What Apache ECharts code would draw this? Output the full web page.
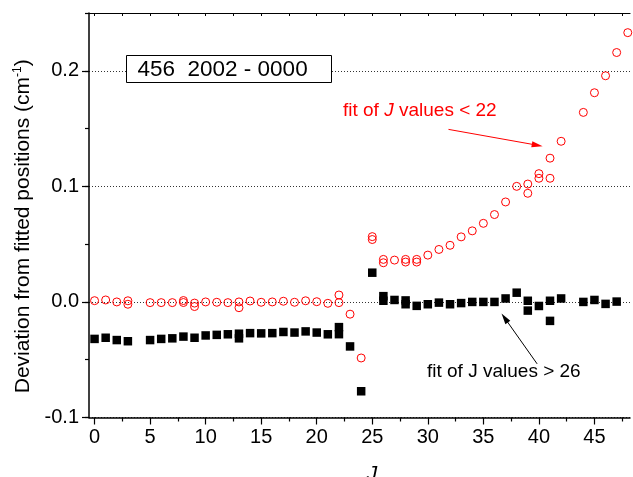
<!DOCTYPE html>
<html>
<head>
<meta charset="utf-8">
<script src="https://cdn.jsdelivr.net/npm/echarts@6/dist/echarts.min.js"></script>
<style>
  html, body { margin: 0; padding: 0; background: #fff; }
  #chart { width: 633px; height: 477px; }
</style>
</head>
<body>
<div id="chart"></div>
<script>
const FONT = '"Liberation Sans", Arial, Helvetica, sans-serif';

// Residuals of the fit to lines with J < 22 (open red circles)
const lowFitJ = [0, 1, 2, 3, 3, 5, 6, 7, 8, 8, 9, 9, 10, 11, 12, 13, 13, 14, 15, 16, 17, 18, 19, 20, 21,
  22, 22, 23, 24, 25, 25, 26, 26, 27, 28, 28, 29, 29, 30, 31, 32, 33, 34, 35, 36, 37, 38, 39, 39, 40,
  40, 41, 41, 42, 44, 45, 46, 47, 48];
const lowFitDev = [0.0011, 0.0017, 0.0000, 0.0010, -0.0020, -0.0006, -0.0006, -0.0006, 0.0012, -0.0005,
  -0.0010, -0.0040, 0.0000, -0.0003, -0.0006, 0.0000, -0.0050, 0.0008, -0.0003, 0.0000,
  0.0006, -0.0003, 0.0010, 0.0002, -0.0012, 0.0060, -0.0006, -0.0106, -0.0485, 0.0565,
  0.0540, 0.0368, 0.0339, 0.0362, 0.0368, 0.0345, 0.0368, 0.0345, 0.0405, 0.0454,
  0.0490, 0.0563, 0.0615, 0.0680, 0.0756, 0.0865, 0.1000, 0.1020, 0.0940, 0.1110,
  0.1070, 0.1244, 0.1070, 0.1390, 0.1640, 0.1810, 0.1957, 0.2158, 0.2330];

// Residuals of the fit to lines with J > 26 (filled black squares)
const highFitJ = [0, 1, 2, 3, 5, 6, 7, 8, 9, 10, 11, 12, 13, 13, 14, 15, 16, 17, 18, 19, 20, 21, 22, 22,
  23, 24, 25, 26, 26, 27, 28, 28, 29, 30, 31, 32, 33, 34, 35, 36, 37, 38, 39, 39, 40, 41, 41, 42,
  44, 45, 46, 47];
const highFitDev = [-0.0320, -0.0310, -0.0330, -0.0340, -0.0330, -0.0320, -0.0315, -0.0300, -0.0310, -0.0290,
  -0.0285, -0.0280, -0.0275, -0.0315, -0.0270, -0.0272, -0.0270, -0.0260, -0.0265, -0.0255,
  -0.0265, -0.0280, -0.0218, -0.0279, -0.0385, -0.0773, 0.0253, 0.0050, 0.0010, 0.0017,
  0.0013, -0.0020, -0.0034, -0.0020, -0.0006, -0.0020, -0.0010, 0.0000, 0.0000, 0.0000,
  0.0030, 0.0080, 0.0010, -0.0075, -0.0035, 0.0010, -0.0164, 0.0030, 0.0000, 0.0017,
  -0.0017, 0.0003];

// Axis ticks
const xMajorTicks = [0, 5, 10, 15, 20, 25, 30, 35, 40, 45];
const xMinorTicks = [2.5, 7.5, 12.5, 17.5, 22.5, 27.5, 32.5, 37.5, 42.5, 47.5];
const xAllTicks = [0, 2.5, 5, 7.5, 10, 12.5, 15, 17.5, 20, 22.5, 25, 27.5, 30, 32.5, 35, 37.5, 40, 42.5, 45, 47.5];

const X_MIN = -0.5, X_MAX = 48.2;
const Y_MIN = -0.1, Y_MAX = 0.25;

const zip = (xs, ys) => xs.map((x, i) => [x, ys[i]]);

const chart = echarts.init(document.getElementById('chart'), null, { renderer: 'canvas' });

const axisText = { color: '#000', fontSize: 20, fontFamily: FONT };
const blackLine = { color: '#000', width: 1.5 };

chart.setOption({
  animation: false,
  backgroundColor: '#fff',
  grid: { left: 89, right: 3, top: 13, bottom: 59.5, containLabel: false, outerBoundsMode: 'none' },
  xAxis: [
    {
      type: 'value', position: 'bottom', min: X_MIN, max: X_MAX,
      axisLine: { show: true, onZero: false, lineStyle: blackLine },
      axisTick: { show: true, inside: false, length: 7, customValues: xMajorTicks, lineStyle: { color: '#000', width: 1.2 } },
      axisLabel: { show: true, margin: 10, customValues: xMajorTicks, ...axisText },
      splitLine: { show: false },
      name: 'J', nameLocation: 'middle', nameGap: 46,
      nameTextStyle: { ...axisText, fontSize: 21, fontStyle: 'italic', padding: [0, 0, 0, 25] }
    },
    {
      type: 'value', position: 'bottom', min: X_MIN, max: X_MAX,
      axisLine: { show: false, onZero: false },
      axisTick: { show: true, inside: false, length: 4, customValues: xMinorTicks, lineStyle: { color: '#000', width: 1.2 } },
      axisLabel: { show: false },
      splitLine: { show: false }
    },
    {
      type: 'value', position: 'top', min: X_MIN, max: X_MAX,
      axisLine: { show: true, onZero: false, lineStyle: { color: '#000', width: 1.2 } },
      axisTick: { show: true, inside: true, length: 3, customValues: xAllTicks, lineStyle: { color: '#000', width: 1 } },
      axisLabel: { show: false },
      splitLine: { show: false }
    }
  ],
  yAxis: [
    {
      type: 'value', position: 'left', min: Y_MIN, max: Y_MAX, interval: 0.1,
      axisLine: { show: true, onZero: false, lineStyle: blackLine },
      axisTick: { show: true, inside: false, length: 7, lineStyle: { color: '#000', width: 1.2 } },
      axisLabel: {
        show: true, margin: 10, showMaxLabel: false, ...axisText,
        formatter: v => (Math.abs(v * 10 - Math.round(v * 10)) < 1e-6 ? v.toFixed(1) : '')
      },
      splitLine: { show: true, lineStyle: { color: '#333', width: 1, type: [1, 2] } },
      name: 'Deviation from fitted positions (cm{sup|-1})',
      nameLocation: 'middle', nameRotate: 90, nameGap: 49,
      nameTextStyle: {
        ...axisText, fontSize: 21, padding: [0, 22, 0, 0],
        rich: { sup: { fontSize: 12, fontFamily: FONT, color: '#000', verticalAlign: 'top', padding: [0, 0, 10, 0] } }
      }
    },
    {
      type: 'value', position: 'left', min: Y_MIN, max: Y_MAX, interval: 0.05,
      axisLine: { show: false, onZero: false },
      axisTick: { show: true, inside: false, length: 4, lineStyle: { color: '#000', width: 1.2 } },
      axisLabel: { show: false },
      splitLine: { show: false }
    }
  ],
  series: [
    {
      name: 'fit of J values > 26', type: 'scatter', xAxisIndex: 0, yAxisIndex: 0,
      symbol: 'rect', symbolSize: 8.5,
      itemStyle: { color: '#000', opacity: 1 },
      data: zip(highFitJ, highFitDev),
      z: 3,
      markLine: {
        silent: true, animation: false,
        symbol: ['none', 'triangle'], symbolSize: [6, 11],
        label: { show: false },
        lineStyle: { color: '#000', width: 1, type: 'solid' },
        data: [[{ coord: [39.84, -0.0536] }, { coord: [36.92, -0.0139] }]]
      }
    },
    {
      name: 'fit of J values < 22', type: 'scatter', xAxisIndex: 0, yAxisIndex: 0,
      symbol: 'circle', symbolSize: 8,
      itemStyle: { color: 'rgba(255,255,255,0)', borderColor: '#ff0000', borderWidth: 1, opacity: 1 },
      data: zip(lowFitJ, lowFitDev),
      z: 4,
      markLine: {
        silent: true, animation: false,
        symbol: ['none', 'triangle'], symbolSize: [6, 11],
        label: { show: false },
        lineStyle: { color: '#ff0000', width: 1, type: 'solid' },
        data: [[{ coord: [31.86, 0.1493] }, { coord: [39.85, 0.1356] }]]
      }
    }
  ],
  graphic: [
    {
      type: 'group', left: 126, top: 55, z: 100,
      children: [
        { type: 'rect', z: 100, shape: { x: 0, y: 0, width: 205, height: 27 },
          style: { fill: '#fff', stroke: '#000', lineWidth: 1 } },
        { type: 'text', z: 101, x: 11, y: 14,
          style: { text: '456  2002 - 0000', fill: '#000', fontSize: 22.5, fontFamily: FONT, verticalAlign: 'middle' } }
      ]
    },
    {
      type: 'text', x: 343, y: 111, z: 100,
      style: {
        text: 'fit of {i|J} values < 22', fill: '#ff0000', fontSize: 19, fontFamily: FONT, verticalAlign: 'middle',
        rich: { i: { fontStyle: 'italic', fontSize: 19, fontFamily: FONT, fill: '#ff0000' } }
      }
    },
    {
      type: 'text', x: 427, y: 372, z: 100,
      style: { text: 'fit of J values > 26', fill: '#000', fontSize: 19, fontFamily: FONT, verticalAlign: 'middle' }
    }
  ]
});
</script>
</body>
</html>
